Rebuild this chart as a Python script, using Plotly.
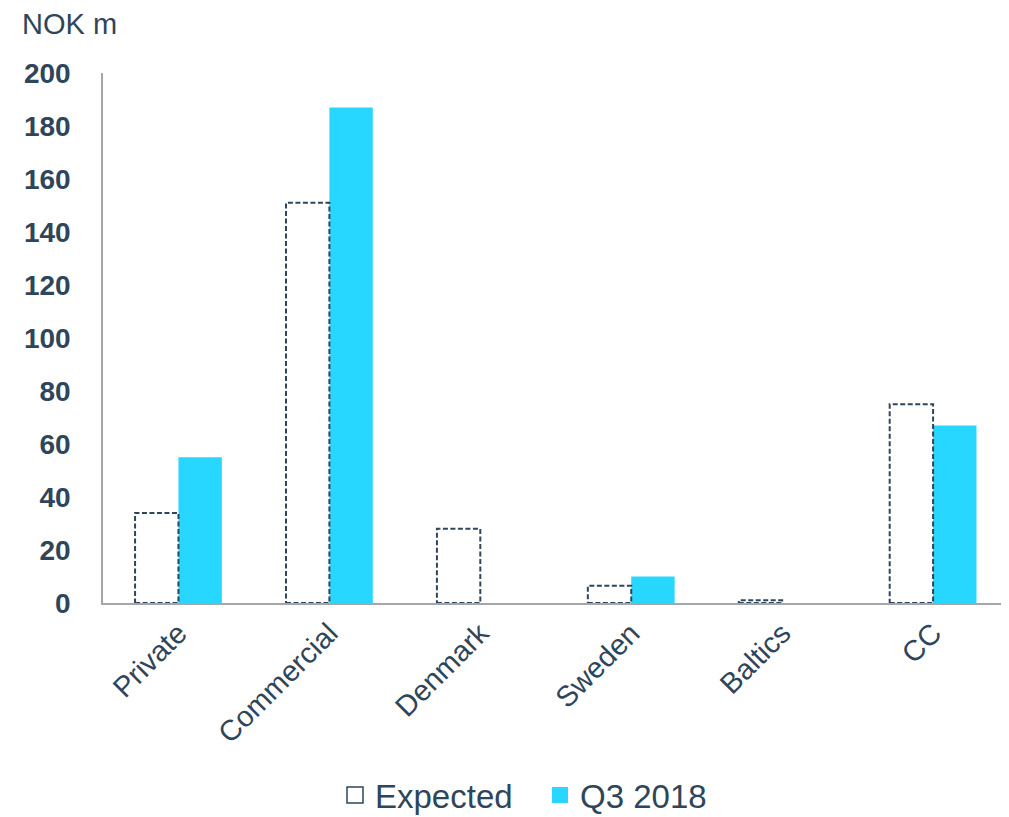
import plotly.graph_objects as go

categories = ["Private", "Commercial", "Denmark", "Sweden", "Baltics", "CC"]
expected = [34, 151, 28, 6.5, 1, 75]
q3_2018 = [55, 187, 0, 10, 0, 67]
y_ticks = [0, 20, 40, 60, 80, 100, 120, 140, 160, 180, 200]

TEXT = "#2F4559"
CYAN = "#28D7FF"
AXIS = "#A3A7AB"
FONT = "Liberation Sans, Arial, sans-serif"
BARGAP = 0.425
half = (1 - BARGAP) / 2

W, H = 993, 815
ML, MT, PW, PH = 95, 65, 898, 530
MB = H - MT - PH

fig = go.Figure()
fig.add_trace(go.Bar(x=categories, y=expected, name="Expected", marker=dict(color="rgba(255,255,255,0)", line=dict(width=0)),
                     showlegend=False, hoverinfo="x+y"))
fig.add_trace(go.Bar(x=categories, y=q3_2018, name="Q3 2018", marker=dict(color=CYAN, line=dict(width=0)),
                     showlegend=False))
# legend entries
fig.add_trace(go.Scatter(x=[None], y=[None], mode="markers", name="Expected",
                         marker=dict(symbol="square-open", size=16, color=TEXT, line=dict(width=1.5, color=TEXT))))
fig.add_trace(go.Scatter(x=[None], y=[None], mode="markers", name="Q3 2018",
                         marker=dict(symbol="square", size=17, color=CYAN)))

# dashed outlines for Expected bars, placed on the category axis from the data
for i, v in enumerate(expected):
    fig.add_shape(type="rect", xref="x", yref="y", x0=i - half, x1=i, y0=0, y1=v,
                  line=dict(color=TEXT, width=2, dash="5px,2.5px"), fillcolor="rgba(0,0,0,0)", layer="above")

fig.update_layout(
    width=W, height=H,
    margin=dict(l=ML, r=W - ML - PW, t=MT, b=MB, autoexpand=False),
    paper_bgcolor="white", plot_bgcolor="white",
    barmode="group", bargap=BARGAP, bargroupgap=0,
    font=dict(family=FONT, color=TEXT),
    legend=dict(orientation="h", x=(327 - ML) / PW, xanchor="left", y=-MB / PH, yanchor="bottom",
                font=dict(size=33, color=TEXT), itemwidth=30, entrywidth=160, entrywidthmode="pixels",
                tracegroupgap=0, borderwidth=0),
    xaxis=dict(type="category", showline=True, linecolor=AXIS, linewidth=1.5, ticks="", automargin=False,
               tickangle=-45, tickfont=dict(size=29, color=TEXT), showgrid=False, zeroline=False,
               range=[-0.5, 5.45]),
    yaxis=dict(range=[0, 200], tickvals=y_ticks, showline=True, linecolor=AXIS, linewidth=1.5, automargin=False,
               showgrid=False, zeroline=False, ticks="outside", ticklen=25, tickcolor="rgba(0,0,0,0)",
               tickfont=dict(size=28, color=TEXT, family=FONT, weight="bold")),
    annotations=[dict(text="NOK m", xref="paper", yref="paper", x=(12 - ML) / PW, y=(MT + PH - 16) / PH,
                      xanchor="left", yanchor="middle", showarrow=False, font=dict(size=29, color=TEXT))],
)

fig.write_html("out.html", post_script="document.documentElement.style.overflow='hidden';document.body.style.overflow='hidden';")
